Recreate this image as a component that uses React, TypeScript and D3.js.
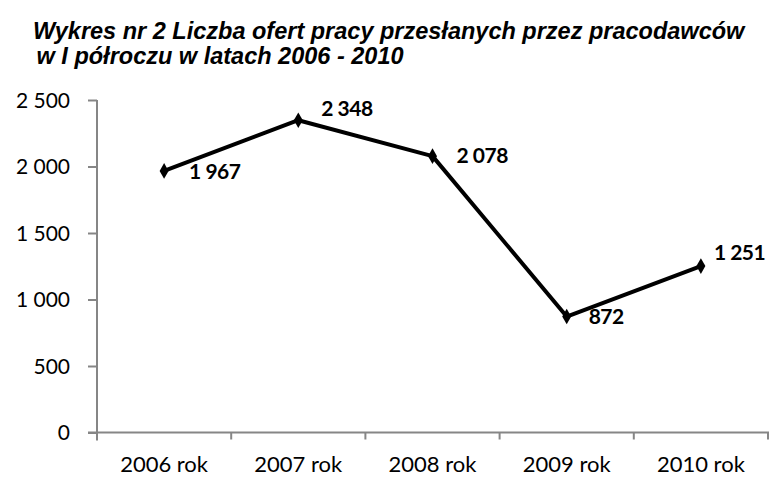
import React, { useRef, useEffect } from 'react';
import * as d3 from 'd3';

const years = ['2006 rok', '2007 rok', '2008 rok', '2009 rok', '2010 rok'];
const offers = [1967, 2348, 2078, 872, 1251];
const yTicks = [0, 500, 1000, 1500, 2000, 2500];
const titleLines = [
  'Wykres nr 2 Liczba ofert pracy przesłanych przez pracodawców',
  ' w I półroczu w latach 2006 - 2010',
];
// label offsets relative to point (dx, dy), as placed in the original
const labelOffsets: [number, number][] = [
  [25, 1], [23, -12], [24, 0], [22, 0], [13, -13],
];

const fmt = (v: number) => d3.format(',')(v).replace(/,/g, ' ');

const App: React.FC = () => {
  const svgRef = useRef<SVGSVGElement>(null);
  const width = 774;
  const height = 485;

  useEffect(() => {
    if (!svgRef.current) return;
    const svg = d3.select(svgRef.current);
    svg.selectAll('*').remove();

    const left = 97, right = 768, top = 100, bottom = 432.5;
    const font = 'Lato, "Open Sans", sans-serif';

    // title
    svg.append('text')
      .attr('font-family', 'Liberation Sans, Arial, sans-serif')
      .attr('font-weight', 'bold')
      .attr('font-style', 'italic')
      .attr('font-size', '23.5px')
      .selectAll('tspan')
      .data(titleLines)
      .enter()
      .append('tspan')
      .attr('x', (d, i) => (i === 0 ? 33 : 30))
      .attr('y', (d, i) => 39 + i * 25)
      .attr('xml:space', 'preserve')
      .text(d => d);

    const x = d3.scaleBand().domain(years).range([left, right]);
    const y = d3.scaleLinear().domain([0, 2500]).range([bottom, top]);

    // y axis
    const yAxis = svg.append('g').attr('transform', `translate(${left},0)`)
      .call(d3.axisLeft(y).tickValues(yTicks).tickSize(9).tickFormat(d => fmt(+d)));
    yAxis.select('.domain').attr('stroke', '#868686').attr('stroke-width', 2)
      .attr('d', `M0,${top}V${bottom + 8}`);
    yAxis.selectAll('.tick line').attr('stroke', '#868686').attr('stroke-width', 2);
    yAxis.selectAll('.tick text')
      .attr('font-family', font).attr('font-size', '21px').attr('fill', '#000')
      .attr('x', -27).attr('dy', '0.35em');

    // x axis
    const xTickPos = years.map(d => x(d)!).concat([right]);
    const xg = svg.append('g');
    xg.append('line')
      .attr('x1', left - 9).attr('x2', right + 1)
      .attr('y1', bottom).attr('y2', bottom)
      .attr('stroke', '#868686').attr('stroke-width', 2);
    xg.selectAll('line.t').data(xTickPos.slice(1)).enter().append('line')
      .attr('class', 't')
      .attr('x1', d => d).attr('x2', d => d)
      .attr('y1', bottom).attr('y2', bottom + 7)
      .attr('stroke', '#868686').attr('stroke-width', 2);
    xg.selectAll('text').data(years).enter().append('text')
      .attr('x', d => x(d)! + x.bandwidth() / 2)
      .attr('y', 472)
      .attr('text-anchor', 'middle')
      .attr('font-family', font).attr('font-size', '22px')
      .text(d => d);

    const cx = (i: number) => x(years[i])! + x.bandwidth() / 2;

    // line
    const line = d3.line<number>().x((d, i) => cx(i)).y(d => y(d));
    svg.append('path')
      .attr('d', line(offers) as string)
      .attr('fill', 'none').attr('stroke', '#000').attr('stroke-width', 4)
      .attr('stroke-linejoin', 'round');

    // markers
    const diamond = d3.symbol().type(d3.symbolDiamond).size(70);
    svg.selectAll('path.m').data(offers).enter().append('path')
      .attr('class', 'm')
      .attr('d', diamond() as string)
      .attr('transform', (d, i) => `translate(${cx(i)},${y(d)})`)
      .attr('fill', '#000');

    // data labels
    svg.selectAll('text.lbl').data(offers).enter().append('text')
      .attr('class', 'lbl')
      .attr('x', (d, i) => cx(i) + labelOffsets[i][0])
      .attr('y', (d, i) => y(d) + labelOffsets[i][1])
      .attr('dy', '0.35em')
      .attr('font-family', font).attr('font-weight', 'bold').attr('font-size', '21px')
      .attr('letter-spacing', '-0.5px')
      .text(d => fmt(d));
  }, []);

  return (
    <svg ref={svgRef} width={width} height={height}
      style={{ position: 'absolute', left: 0, top: 0, background: '#fff' }} />
  );
};

export default App;
